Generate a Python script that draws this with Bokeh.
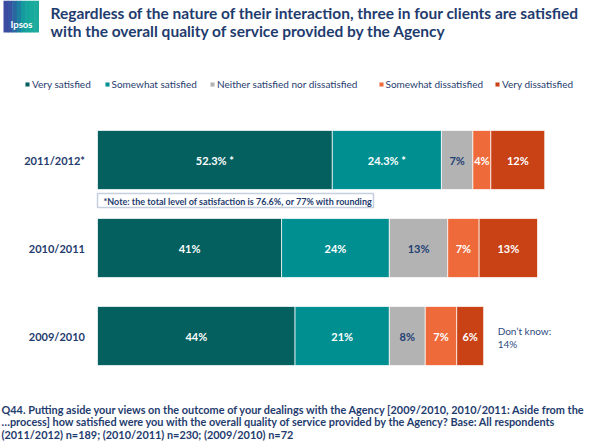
from bokeh.plotting import figure
from bokeh.models import ColumnDataSource, Range1d, Label, BoxAnnotation, Legend, LegendItem
from bokeh.embed import file_html
from bokeh.resources import INLINE
from bokeh.core.properties import value

# ---------------- data ----------------
years = ["2011/2012*", "2010/2011", "2009/2010"]
series = ["Very satisfied", "Somewhat satisfied", "Neither satisfied nor dissatisfied",
          "Somewhat dissatisfied", "Very dissatisfied"]
very_satisfied = [52.3, 41, 44]
somewhat_satisfied = [24.3, 24, 21]
neither = [7, 13, 8]
somewhat_dissatisfied = [4, 7, 7]
very_dissatisfied = [12, 13, 6]
dont_know = [None, None, 14]

title_lines = ["Regardless of the nature of their interaction, three in four clients are satisfied",
               "with the overall quality of service provided by the Agency"]
note_text = "*Note: the total level of satisfaction is 76.6%, or 77% with rounding"
footer_lines = ["Q44. Putting aside your views on the outcome of your dealings with the Agency [2009/2010, 2010/2011: Aside from the",
                "\u2026process] how satisfied were you with the overall quality of service provided by the Agency? Base:  All respondents",
                "(2011/2012) n=189; (2010/2011) n=230; (2009/2010) n=72"]

# ---------------- style ----------------
colors = ["#03605F", "#008F91", "#B3B3B3", "#EE6A3A", "#C84216"]
label_colors = ["white", "white", "#1F3F73", "white", "white"]
NAVY = "#1F3C6E"
FONT = "Lato"

W, H = 590, 441
OFF = 0
PX_PER_PCT = 4.49
X0 = 97 - OFF
ROW_STEP = 88
ROW0 = 159.5 - OFF

x_start = -X0 / PX_PER_PCT
x_end = x_start + W / PX_PER_PCT
y_top = -ROW0 / ROW_STEP
y_bottom = y_top + H / ROW_STEP

p = figure(width=W, height=H, x_range=Range1d(x_start, x_end), y_range=Range1d(y_bottom, y_top),
           output_backend="svg", toolbar_location=None, min_border=0,
           x_axis_location=None, y_axis_location=None)
p.grid.visible = False
p.outline_line_color = None
p.background_fill_color = "white"
p.border_fill_color = "white"


def sx(px):
    return px - OFF


def sy(py):
    return H - (py - OFF)


def label(px, py, text, size, color=NAVY, bold=False, align="left", baseline="middle"):
    p.add_layout(Label(x=sx(px), y=sy(py), x_units="screen", y_units="screen", text=text,
                       text_font=FONT, text_font_size=f"{size}px",
                       text_font_style="bold" if bold else "normal",
                       text_color=color, text_align=align, text_baseline=baseline))


# ---------------- bars ----------------
keys = ["vs", "ss", "ne", "sd", "vd"]
data = dict(y=list(range(len(years))), vs=very_satisfied, ss=somewhat_satisfied, ne=neither,
            sd=somewhat_dissatisfied, vd=very_dissatisfied)
src = ColumnDataSource(data)
renderers = p.hbar_stack(keys, y="y", height=0.67, fill_color=colors, line_color="white",
                         line_alpha=0.7, line_width=1, source=src)

# segment labels
tx, ty, tt, tc = [], [], [], []
for i, yr in enumerate(years):
    left = 0
    for j, k in enumerate(keys):
        v = data[k][i]
        txt = f"{v:g}%"
        if yr.endswith("*") and j < 2:
            txt += " *"
        tx.append(left + v / 2)
        ty.append(i)
        tt.append(txt)
        tc.append(label_colors[j])
        left += v
p.text(x="x", y="y", text="t", text_color="c", source=ColumnDataSource(dict(x=tx, y=ty, t=tt, c=tc)),
       text_align="center", text_baseline="middle", text_font=value(FONT),
       text_font_size="11px", text_font_style="bold")

# category labels
p.text(x=[-12.5 / PX_PER_PCT] * len(years), y=list(range(len(years))), text=years,
       text_align="right", text_baseline="middle", text_font=value(FONT),
       text_font_size="11px", text_font_style="bold", text_color=NAVY)

# don't know
for i, dk in enumerate(dont_know):
    if dk is None:
        continue
    total = sum(data[k][i] for k in keys)
    p.text(x=[total + 14 / PX_PER_PCT] * 2, y=[i - 5.5 / ROW_STEP, i + 7.5 / ROW_STEP],
           text=["Don\u2019t know:", f"{dk:g}%"], text_align="left", text_baseline="middle",
           text_font=value(FONT), text_font_size="10px", text_color="#2E4A7E")

# note box
p.add_layout(BoxAnnotation(left=sx(97), right=sx(373), top=sy(193), bottom=sy(207),
                           left_units="screen", right_units="screen", top_units="screen",
                           bottom_units="screen", fill_color="white", fill_alpha=1,
                           line_color="#3F5F92", line_width=1.5))
label(103, 200.5, note_text, 9, bold=True)

# ---------------- legend ----------------
leg_x = [24, 103.5, 209, 377.5, 494]
for j, (name, r) in enumerate(zip(series, renderers)):
    lg = Legend(items=[LegendItem(label=name, renderers=[r])],
                location=(sx(leg_x[j]), sy(90)), orientation="horizontal",
                glyph_width=6, glyph_height=6, label_standoff=2, padding=0, margin=0, spacing=0,
                label_text_font=FONT, label_text_font_size="10px", label_text_color=NAVY,
                border_line_color=None, background_fill_alpha=0, label_height=12)
    p.add_layout(lg)

# ---------------- logo ----------------
logo_cols = ["#3B4BA0", "#3652A0", "#2A66A0", "#1E80A0", "#159A9E", "#14A69C", "#18AA9C", "#1CAB9C"]
lx0, lx1, ly0, ly1 = 3, 38, 0, 32
n = len(logo_cols)
for k, c in enumerate(logo_cols):
    a = lx0 + (lx1 - lx0) * k / n
    b = lx0 + (lx1 - lx0) * (k + 1) / n + 0.5
    p.add_layout(BoxAnnotation(left=sx(a), right=sx(b), top=sy(ly0), bottom=sy(ly1),
                               left_units="screen", right_units="screen", top_units="screen",
                               bottom_units="screen", fill_color=c, fill_alpha=1, line_alpha=0))
label(21, 24, "Ipsos", 9.5, color="white", bold=True, align="center")

# ---------------- title ----------------
label(50, 12.5, title_lines[0], 15.5, bold=True, baseline="alphabetic")
label(50, 30, title_lines[1], 15.5, bold=True, baseline="alphabetic")

# ---------------- footer ----------------
for i, line in enumerate(footer_lines):
    label(1, 408.5 + i * 12.5, line, 10.9, bold=True)

open("out.html", "w").write(file_html(p, INLINE))
